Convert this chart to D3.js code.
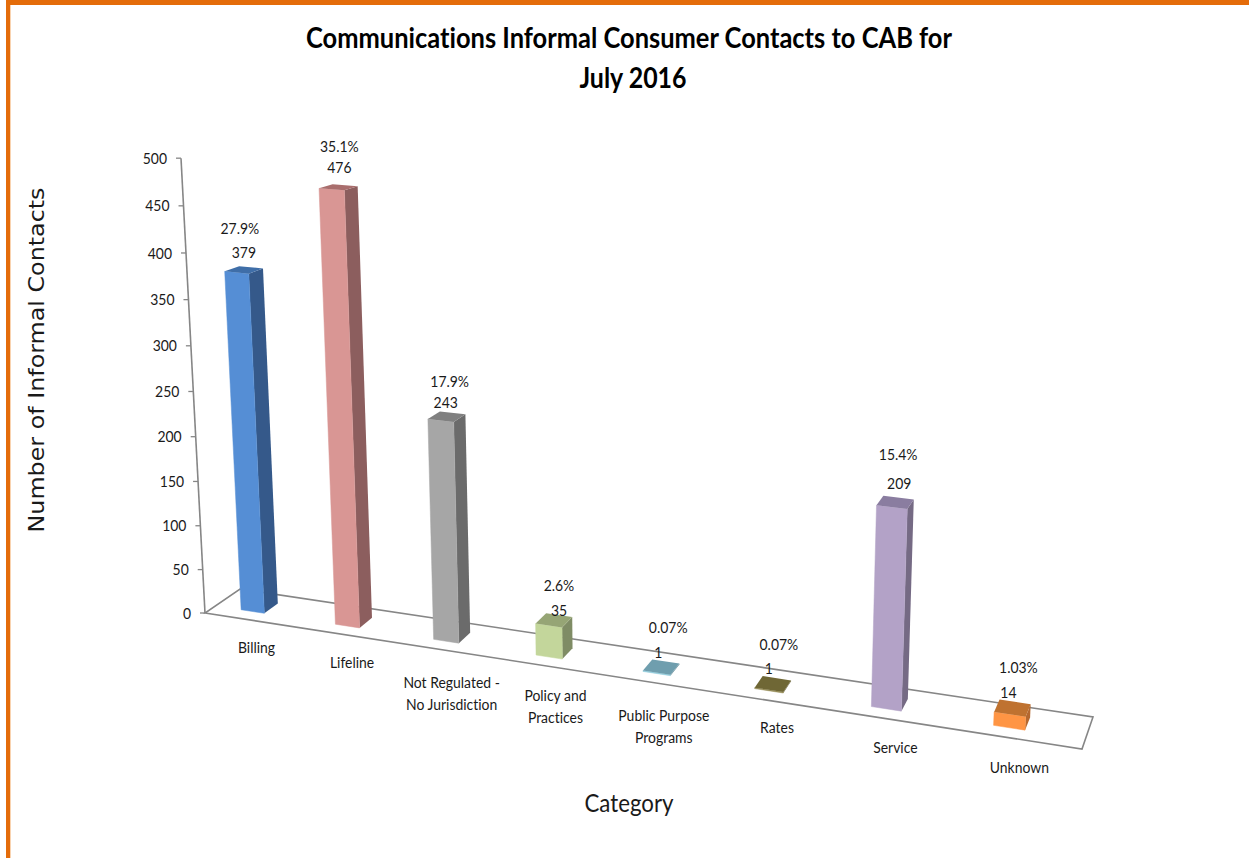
<!DOCTYPE html>
<html>
<head>
<meta charset="utf-8">
<title>Communications Informal Consumer Contacts</title>
<script src="https://cdn.jsdelivr.net/npm/d3@7"></script>
<style>
	body { margin: 0; background: #fff; }
	text { font-family: Lato, "Open Sans", sans-serif; fill: #1a1a1a; font-variant-ligatures: none; }
</style>
</head>
<body>
<svg id="chart" width="1249" height="858"></svg>
<script>
	var categories = [["Billing"], ["Lifeline"], ["Not Regulated -", "No Jurisdiction"], ["Policy and", "Practices"],
		["Public Purpose", "Programs"], ["Rates"], ["Service"], ["Unknown"]];
	var values = [379, 476, 243, 35, 1, 1, 209, 14];
	var percents = ["27.9%", "35.1%", "17.9%", "2.6%", "0.07%", "0.07%", "15.4%", "1.03%"];
	var yTicks = [0, 50, 100, 150, 200, 250, 300, 350, 400, 450, 500];

	var frontColors = ["#558ed5", "#d99694", "#a6a6a6", "#c3d69b", "#92cddc", "#948a54", "#b3a2c7", "#ff9544"];
	var sideColors = ["#35598a", "#8c5e5e", "#6b6b6b", "#7f8c65", "#5f8794", "#5f5830", "#756a84", "#b5682f"];
	var topColors = ["#3f6ea8", "#a96e6d", "#808080", "#96a575", "#6f9eae", "#6f6735", "#8a7da0", "#bf7230"];

	// hand placed labels in the original, offsets from the top of each bar
	var valueNudge = [[0, -18], [1, -20], [-1, -14], [5, -10], [-3, -15], [-4, -16], [4, -19], [-4, -16]];
	var percentNudge = [[-4, -42], [1, -41], [3, -35], [5, -35], [7, -40], [6, -40], [3, -48], [6, -41]];
	var catDrop = [29, 29, 33, 30, 33, 28, 30, 30];

	var svg = d3.select("#chart");
	var floorFL = [205, 613], floorFR = [1082, 749], floorBL = [240, 589], floorBR = [1093, 717];
	var vanish = [656, 9160];
	var barDepth = [0.3, 0.7];
	var squeeze = "scale(0.93,1.06)"; // lato is wider than the font in the picture

	var xBand = d3.scaleBand().domain(d3.range(categories.length)).range([-0.012, 0.988])
		.paddingInner(0.75).paddingOuter(0.375);
	var lift = d3.scaleLinear().domain([0, 500]).range([0, 0.05]);

	// the 3d chart has perspective along the floor and up the height
	function warp(t) {
		return t / (t + 1.19 * (1 - t));
	}

	function project(t, depth, value) {
		var u = warp(t);
		var front = d3.interpolate(floorFL, floorFR)(u);
		var back = d3.interpolate(floorBL, floorBR)(u);
		var base = d3.interpolate(front, back)(depth);
		var c = lift(value) * (1 + 0.15 * u) * (1 - 0.035 * (depth - 0.3));
		var g = 1 / (1 - c);
		return [vanish[0] + (base[0] - vanish[0]) * g, vanish[1] + (base[1] - vanish[1]) * g];
	}

	function poly(points) {
		return points.map(function (p) { return p[0] + "," + p[1]; }).join(" ");
	}

	// page border
	svg.append("rect").attr("x", 6).attr("y", 0).attr("width", 1243).attr("height", 5).style("fill", "#e46c0a");
	svg.append("rect").attr("x", 6).attr("y", 0).attr("width", 4).attr("height", 858).style("fill", "#e46c0a");
	svg.append("rect").attr("x", 10).attr("y", 5).attr("width", 1).attr("height", 853).style("fill", "#f9d3b0");

	// title
	svg.append("text").attr("x", 629).attr("y", 48).attr("text-anchor", "middle")
		.attr("textLength", 646).attr("lengthAdjust", "spacingAndGlyphs")
		.style("font-size", "29px").style("font-weight", "bold").style("fill", "#000")
		.text("Communications Informal Consumer Contacts to CAB for");
	svg.append("text").attr("x", 633).attr("y", 88).attr("text-anchor", "middle")
		.attr("textLength", 107).attr("lengthAdjust", "spacingAndGlyphs")
		.style("font-size", "29px").style("font-weight", "bold").style("fill", "#000")
		.text("July 2016");

	// floor
	svg.append("polygon").attr("points", poly([floorFL, floorFR, floorBR, floorBL]))
		.style("fill", "none").style("stroke", "#868686").style("stroke-width", 1.6);

	// value axis, leans with the perspective so d3.axisLeft can't draw it
	svg.append("line")
		.attr("x1", project(0, 0, 0)[0]).attr("y1", project(0, 0, 0)[1])
		.attr("x2", project(0, 0, 500)[0]).attr("y2", project(0, 0, 500)[1])
		.style("stroke", "#868686").style("stroke-width", 1.6);

	var ticks = svg.selectAll(".tick").data(yTicks).enter().append("g").attr("class", "tick")
		.attr("transform", function (d) {
			var p = project(0, 0, d);
			return "translate(" + p[0] + "," + p[1] + ")";
		});
	ticks.append("line").attr("x1", -5).attr("x2", 0).style("stroke", "#868686").style("stroke-width", 1.3);
	ticks.append("text").attr("transform", "translate(-14,0) " + squeeze).attr("dy", "0.35em").attr("text-anchor", "end")
		.style("font-size", "15px").text(function (d) { return d; });

	// bars
	var bars = svg.selectAll(".bar").data(values).enter().append("g").attr("class", "bar");

	bars.each(function (d, i) {
		var g = d3.select(this);
		var t0 = xBand(i), t1 = t0 + xBand.bandwidth();
		var d0 = barDepth[0], d1 = barDepth[1];
		g.append("polygon").attr("points", poly([project(t1, d0, 0), project(t1, d1, 0), project(t1, d1, d), project(t1, d0, d)]))
			.style("fill", sideColors[i]);
		g.append("polygon").attr("points", poly([project(t0, d0, 0), project(t1, d0, 0), project(t1, d0, d), project(t0, d0, d)]))
			.style("fill", frontColors[i]).style("stroke", frontColors[i]).style("stroke-width", 0.5);
		g.append("polygon").attr("points", poly([project(t0, d0, d), project(t1, d0, d), project(t1, d1, d), project(t0, d1, d)]))
			.style("fill", topColors[i]);
	});

	// data labels
	function topOf(i) {
		return project(xBand(i) + xBand.bandwidth() / 2, 0.5, values[i]);
	}
	function labelAt(nudge) {
		return function (d, i) {
			var p = topOf(i);
			return "translate(" + (p[0] + nudge[i][0]) + "," + (p[1] + nudge[i][1]) + ") " + squeeze;
		};
	}
	svg.selectAll(".value-label").data(values).enter().append("text").attr("class", "value-label")
		.attr("transform", labelAt(valueNudge))
		.attr("dy", "0.35em").attr("text-anchor", "middle").style("font-size", "15px")
		.text(function (d) { return d; });
	svg.selectAll(".percent-label").data(percents).enter().append("text").attr("class", "percent-label")
		.attr("transform", labelAt(percentNudge))
		.attr("dy", "0.35em").attr("text-anchor", "middle").style("font-size", "15px")
		.text(function (d) { return d; });

	// category labels
	var catLabels = svg.selectAll(".cat-label").data(categories).enter().append("text").attr("class", "cat-label")
		.attr("text-anchor", "middle").style("font-size", "15px")
		.attr("transform", function (d, i) {
			var p = project(xBand(i) + xBand.bandwidth() / 2, 0, 0);
			return "translate(" + (p[0] + 14) + "," + (p[1] + catDrop[i]) + ") " + squeeze;
		});
	catLabels.selectAll("tspan").data(function (d) { return d; }).enter().append("tspan")
		.attr("x", 0).attr("y", function (d, i) { return i * 21; }).attr("dy", "0.35em")
		.text(function (d) { return d; });

	// axis titles
	svg.append("text").attr("transform", "translate(37,360) rotate(-90)").attr("dy", "0.35em")
		.attr("text-anchor", "middle").attr("textLength", 345).attr("lengthAdjust", "spacingAndGlyphs")
		.style("font-family", "'DejaVu Sans', sans-serif").style("font-size", "21px")
		.text("Number of Informal Contacts");
	svg.append("text").attr("x", 629).attr("y", 803).attr("dy", "0.35em").attr("text-anchor", "middle")
		.attr("textLength", 89).attr("lengthAdjust", "spacingAndGlyphs")
		.style("font-size", "25px").text("Category");
</script>
</body>
</html>
